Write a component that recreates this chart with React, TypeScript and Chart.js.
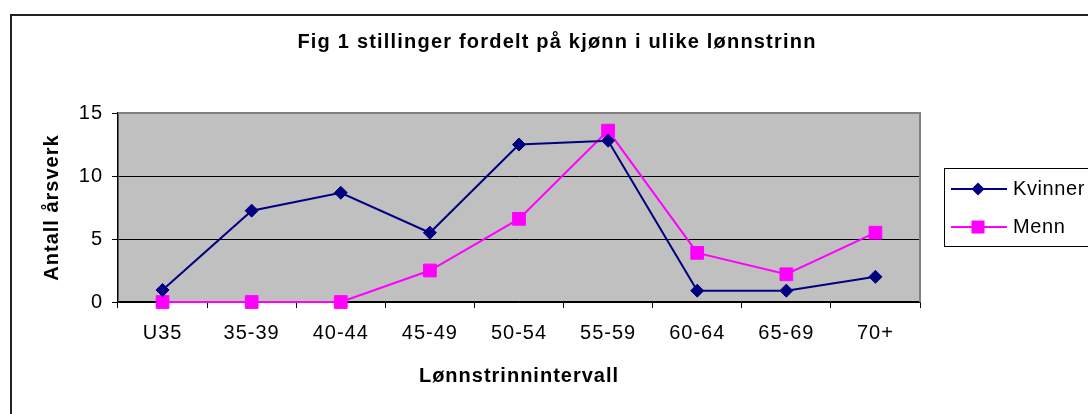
import React, { useEffect, useRef } from "react";
import { Chart, registerables } from "chart.js";

Chart.register(...registerables);

const categories = ["U35", "35-39", "40-44", "45-49", "50-54", "55-59", "60-64", "65-69", "70+"];
const kvinner = [0.95, 7.25, 8.67, 5.5, 12.5, 12.8, 0.9, 0.9, 2.0];
const menn = [0, 0, 0, 2.5, 6.6, 13.6, 3.9, 2.2, 5.5];
const seriesNames = ["Kvinner", "Menn"];
const chartTitle = "Fig 1 stillinger fordelt på kjønn i ulike lønnstrinn";
const xTitle = "Lønnstrinnintervall";
const yTitle = "Antall årsverk";

const FONT = '"Liberation Sans", Arial, sans-serif';
const NAVY = "#000080";
const PINK = "#FF00FF";

const setSpacing = (ctx: any, v: string) => {
  try { ctx.letterSpacing = v; } catch (e) {}
};

const decorPlugin = {
  id: "decor",
  beforeDraw(chart: any) {
    const { ctx, chartArea: a, width, height } = chart;
    ctx.save();
    ctx.fillStyle = "#ffffff";
    ctx.fillRect(0, 0, width, height);
    // outer frame
    ctx.strokeStyle = "#222222";
    ctx.lineWidth = 2;
    ctx.strokeRect(11, 15, width + 50, height + 50);
    // plot area
    ctx.fillStyle = "#C0C0C0";
    ctx.fillRect(a.left, a.top, a.right - a.left, a.bottom - a.top);
    ctx.restore();
    setSpacing(ctx, "1px");
  },
  beforeDatasetsDraw(chart: any) {
    const { ctx, chartArea: a } = chart;
    ctx.save();
    ctx.strokeStyle = "#808080";
    ctx.lineWidth = 2;
    ctx.beginPath();
    ctx.moveTo(a.left, a.top);
    ctx.lineTo(a.right, a.top);
    ctx.lineTo(a.right, a.bottom);
    ctx.stroke();
    ctx.restore();
  },
  afterDraw(chart: any) {
    const { ctx } = chart;
    ctx.save();
    // title
    ctx.fillStyle = "#000";
    ctx.font = `bold 20px ${FONT}`;
    ctx.textAlign = "center";
    ctx.textBaseline = "middle";
    setSpacing(ctx, "1.2px");
    ctx.fillText(chartTitle, 557, 42);

    // legend
    setSpacing(ctx, "0.6px");
    ctx.strokeStyle = "#000";
    ctx.lineWidth = 1;
    ctx.strokeRect(944.5, 168.5, 200, 78);
    const items = [
      { name: seriesNames[0], color: NAVY, y: 189, shape: "diamond" },
      { name: seriesNames[1], color: PINK, y: 227, shape: "square" },
    ];
    items.forEach((it) => {
      ctx.strokeStyle = it.color;
      ctx.lineWidth = 2;
      ctx.beginPath();
      ctx.moveTo(951, it.y);
      ctx.lineTo(1007, it.y);
      ctx.stroke();
      ctx.fillStyle = it.color;
      ctx.beginPath();
      if (it.shape === "diamond") {
        ctx.moveTo(978, it.y - 6.5);
        ctx.lineTo(984.5, it.y);
        ctx.lineTo(978, it.y + 6.5);
        ctx.lineTo(971.5, it.y);
        ctx.closePath();
      } else {
        ctx.rect(971.5, it.y - 6.5, 13, 13);
      }
      ctx.fill();
      ctx.fillStyle = "#000";
      ctx.font = `20px ${FONT}`;
      ctx.textAlign = "left";
      ctx.textBaseline = "middle";
      ctx.fillText(it.name, 1013, it.y);
    });
    ctx.restore();
    setSpacing(ctx, "0px");
  },
};

export default function App() {
  const ref = useRef<HTMLCanvasElement | null>(null);
  useEffect(() => {
    if (!ref.current) return;
    const chart = new Chart(ref.current, {
      type: "line",
      data: {
        labels: categories,
        datasets: [
          {
            label: seriesNames[0],
            data: kvinner,
            borderColor: NAVY,
            backgroundColor: NAVY,
            borderWidth: 2,
            pointStyle: "rectRot",
            pointRadius: 6.5,
            pointBorderWidth: 1,
            tension: 0,
            clip: false,
          },
          {
            label: seriesNames[1],
            data: menn,
            borderColor: PINK,
            backgroundColor: PINK,
            borderWidth: 2,
            pointStyle: "rect",
            pointRadius: 9,
            pointBorderWidth: 1,
            tension: 0,
            clip: false,
          },
        ],
      },
      options: {
        responsive: false,
        animation: false,
        layout: { padding: { left: 12, top: 113, right: 168, bottom: 0 } },
        plugins: {
          legend: { display: false },
          title: { display: false },
          tooltip: { enabled: false },
        },
        scales: {
          x: {
            type: "category",
            offset: true,
            grid: {
              offset: true,
              drawOnChartArea: false,
              drawTicks: true,
              tickLength: 6,
              color: "#000",
            },
            border: { display: true, color: "#000", width: 1.5 },
            ticks: {
              color: "#000",
              font: { family: FONT, size: 20 },
              padding: 13,
              maxRotation: 0,
              autoSkip: false,
            },
            title: {
              display: true,
              text: xTitle,
              color: "#000",
              font: { family: FONT, size: 20, weight: "bold" },
              padding: { top: 0, bottom: 26 },
            },
            afterFit: (s: any) => {
              s.height = 112;
            },
          },
          y: {
            min: 0,
            max: 15,
            grid: {
              color: (c: any) => (c.tick && c.tick.value === 15 ? "#808080" : "#000"),
              tickColor: "#000",
              tickLength: 6,
              lineWidth: 1,
            },
            border: { display: true, color: "#000", width: 1.5 },
            ticks: {
              stepSize: 5,
              color: "#000",
              font: { family: FONT, size: 20 },
              padding: 9,
            },
            title: {
              display: true,
              text: yTitle,
              color: "#000",
              font: { family: FONT, size: 20, weight: "bold" },
              padding: { top: 28, bottom: 0 },
            },
            afterFit: (s: any) => {
              s.width = 106;
            },
          },
        },
      },
      plugins: [decorPlugin],
    });
    return () => chart.destroy();
  }, []);
  return (
    <div style={{ position: "absolute", left: 0, top: 0, width: 1088, height: 414 }}>
      <canvas ref={ref} width={1088} height={414} />
    </div>
  );
}
